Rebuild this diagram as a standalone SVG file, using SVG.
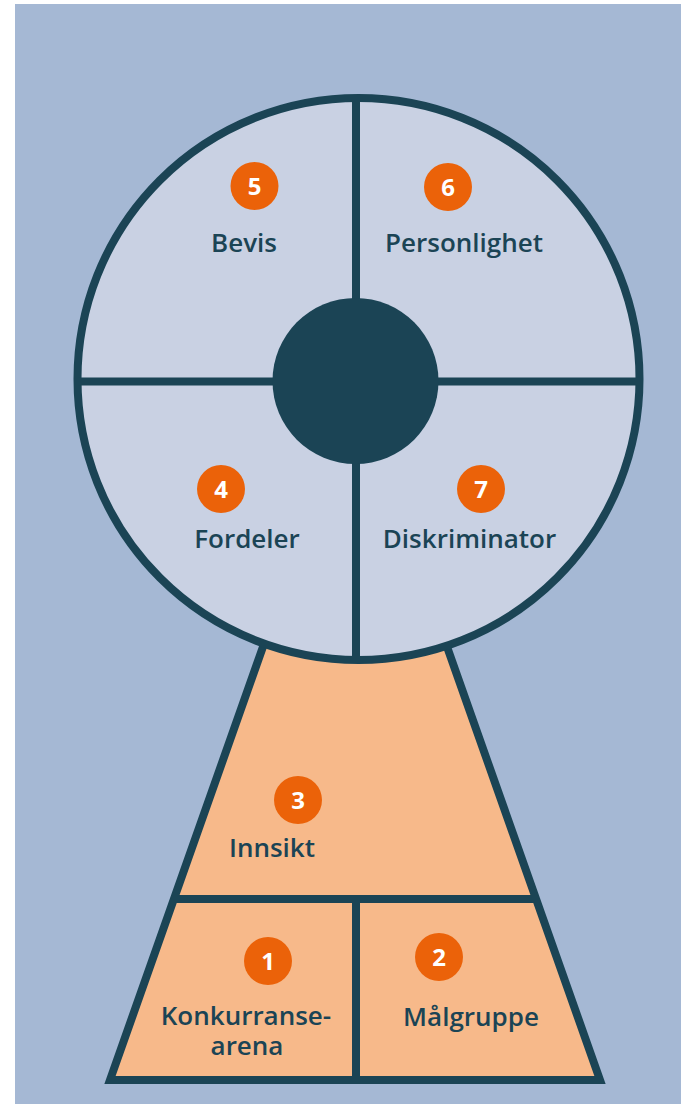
<svg xmlns="http://www.w3.org/2000/svg" width="681" height="1106" viewBox="0 0 681 1106">
<style>
.ln{stroke:#1b4455;stroke-width:8;fill:none}
.lbl{font-family:"Open Sans","Liberation Sans",sans-serif;font-weight:600;font-size:26px;fill:#1b4455;text-anchor:middle}
.badge circle{fill:#eb6209}
.badge text{font-family:"Open Sans","Liberation Sans",sans-serif;font-weight:700;font-size:24px;fill:#ffffff;text-anchor:middle}
</style>
<rect x="0" y="0" width="681" height="1106" fill="#ffffff"/>
<rect x="15" y="4" width="666" height="1100" fill="#a5b8d4"/>
<g id="base">
<polygon points="279.5,600 430.5,600 600,1080 110,1080" fill="#f7b98a" stroke="#1b4455" stroke-width="8" stroke-linejoin="miter"/>
<line class="ln" x1="174" y1="899" x2="536" y2="899"/>
<line class="ln" x1="356" y1="899" x2="356" y2="1080"/>
</g>
<g id="wheel">
<circle cx="358.5" cy="379" r="281" fill="#c9d1e3" stroke="#1b4455" stroke-width="8"/>
<line class="ln" x1="356" y1="98" x2="356" y2="660"/>
<line class="ln" x1="78" y1="381.5" x2="639" y2="381.5"/>
<circle id="hub" cx="355.5" cy="381" r="83" fill="#1b4455"/>
</g>
<g id="n5"><g class="badge"><circle cx="254.5" cy="186" r="24"/><text x="254.5" y="194.5">5</text></g><text class="lbl" x="244" y="252">Bevis</text></g>
<g id="n6"><g class="badge"><circle cx="448" cy="187" r="24"/><text x="448" y="195.5">6</text></g><text class="lbl" x="464" y="252">Personlighet</text></g>
<g id="n4"><g class="badge"><circle cx="221" cy="489" r="24"/><text x="221" y="497.5">4</text></g><text class="lbl" x="247" y="548">Fordeler</text></g>
<g id="n7"><g class="badge"><circle cx="481" cy="489" r="24"/><text x="481" y="497.5">7</text></g><text class="lbl" x="469.5" y="548">Diskriminator</text></g>
<g id="n3"><g class="badge"><circle cx="298" cy="800" r="24"/><text x="298" y="808.5">3</text></g><text class="lbl" x="272" y="857">Innsikt</text></g>
<g id="n1"><g class="badge"><circle cx="268" cy="961" r="24"/><text x="268" y="969.5">1</text></g><text class="lbl" x="246" y="1025"><tspan x="246">Konkurranse-</tspan><tspan x="247" dy="30">arena</tspan></text></g>
<g id="n2"><g class="badge"><circle cx="439" cy="957" r="24"/><text x="439" y="965.5">2</text></g><text class="lbl" x="471" y="1026">Målgruppe</text></g>
<g id="connectors"></g>
</svg>
